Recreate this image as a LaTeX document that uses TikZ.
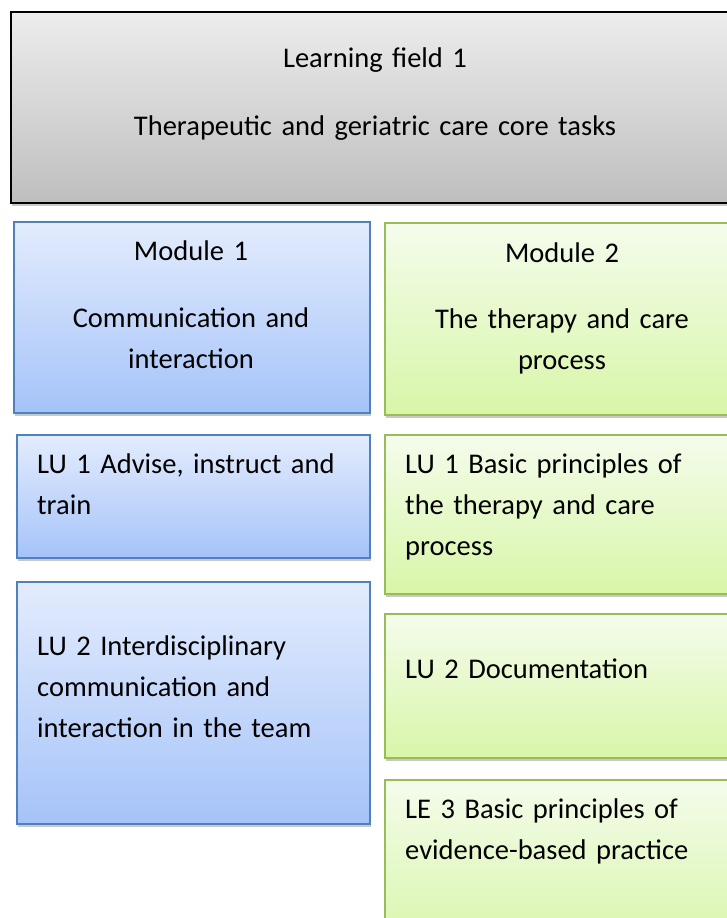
\documentclass[tikz,border=0pt]{standalone}
\usepackage{fontspec}
\setmainfont{Carlito}
\usepackage{xcolor}
\usepackage{tikz}
\usetikzlibrary{positioning,shadows}

\definecolor{fieldtop}{HTML}{EDEDED}
\definecolor{fieldbot}{HTML}{BEBEBE}
\definecolor{bluetop}{HTML}{E3ECFD}
\definecolor{bluebot}{HTML}{A5C3F9}
\definecolor{blueline}{HTML}{4F81BD}
\definecolor{greentop}{HTML}{F4FCEC}
\definecolor{greenbot}{HTML}{D8F6A8}
\definecolor{greenline}{HTML}{9BBB59}

\tikzset{
    box/.style={rectangle, inner sep=0pt, anchor=north west, line width=1.8pt,
        drop shadow={shadow xshift=1pt, shadow yshift=-3pt, opacity=0.3, fill=black!70}},
    fieldbox/.style={box, draw=black, top color=fieldtop, bottom color=fieldbot},
    bluebox/.style={box, draw=blueline, top color=bluetop, bottom color=bluebot},
    greenbox/.style={box, draw=greenline, top color=greentop, bottom color=greenbot},
    txt/.style={font=\fontsize{28.5}{41}\selectfont, inner sep=0pt, anchor=base},
    ctxt/.style={txt, text width=340pt, align=center},
    ltxt/.style={txt, text width=330pt, align=left, anchor=base west}
}

\begin{document}
\begin{tikzpicture}[x=1pt, y=-1pt]
    \useasboundingbox (0,0) rectangle (727,918);

    % learning field
    \node[fieldbox, minimum width=730pt, minimum height=191pt] (field) at (10,11) {};
    \node[txt, text width=700pt, align=center] (fieldtxt) at (375,67)
        {Learning field 1\\[27pt]Therapeutic and geriatric care core tasks};

    % modules
    \node[bluebox, minimum width=356pt, minimum height=191pt] (mod1) at (13,221) {};
    \node[greenbox, minimum width=356pt, minimum height=192pt] (mod2) at (384,222) {};
    \node[ctxt] (mod1txt) at (191,260) {Module 1\\[26pt]Communication and\\interaction};
    \node[ctxt] (mod2txt) at (562,262) {Module 2\\[25pt]The therapy and care\\process};

    % learning units, module 1
    \node[bluebox, minimum width=353pt, minimum height=123pt] (lu1a) at (16,434) {};
    \node[bluebox, minimum width=353pt, minimum height=242pt] (lu2a) at (16,581) {};
    \node[ltxt] (lu1atxt) at (37,473) {LU 1 Advise, instruct and\\train};
    \node[ltxt] (lu2atxt) at (37,655) {LU 2 Interdisciplinary\\communication and\\interaction in the team};

    % learning units, module 2
    \node[greenbox, minimum width=356pt, minimum height=159pt] (lu1b) at (384,434) {};
    \node[greenbox, minimum width=356pt, minimum height=144pt] (lu2b) at (384,613) {};
    \node[greenbox, minimum width=356pt, minimum height=170pt] (lu3b) at (384,779) {};
    \node[ltxt] (lu1btxt) at (405,473) {LU 1 Basic principles of\\the therapy and care\\process};
    \node[ltxt] (lu2btxt) at (405,678) {LU 2 Documentation};
    \node[ltxt] (lu3btxt) at (405,818) {LE 3 Basic principles of\\evidence-based practice};
\end{tikzpicture}
\end{document}
